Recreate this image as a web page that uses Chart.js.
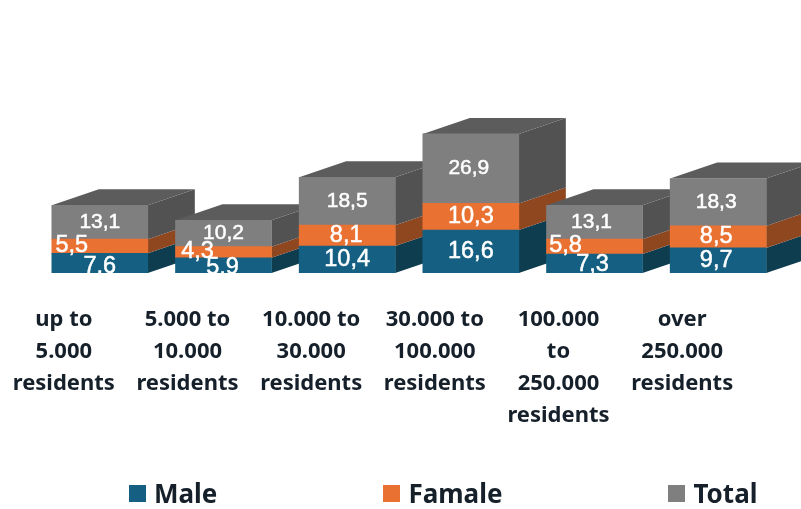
<!DOCTYPE html>
<html>
<head>
<meta charset="utf-8">
<title>Residents by municipality size</title>
<script src="https://cdn.jsdelivr.net/npm/chart.js@4/dist/chart.umd.min.js"></script>
<style>
    html, body { margin: 0; padding: 0; background: #fff; }
    #wrap { position: relative; width: 801px; height: 509px; overflow: hidden; }
    canvas { display: block; }
    #legend {
        position: absolute; left: 129px; top: 478px;
        display: flex; gap: 166px;
        font: bold 26px/30px "Noto Sans", sans-serif; color: #16202a;
    }
    #legend span { display: flex; align-items: center; gap: 8px; }
    #legend i { display: block; width: 17px; height: 17px; }
</style>
</head>
<body>
<div id="wrap">
    <canvas id="chart" width="801" height="509"></canvas>
    <div id="legend"></div>
</div>
<script>
const categories = [
    ['up to', '5.000', 'residents'],
    ['5.000 to', '10.000', 'residents'],
    ['10.000 to', '30.000', 'residents'],
    ['30.000 to', '100.000', 'residents'],
    ['100.000', 'to', '250.000', 'residents'],
    ['over', '250.000', 'residents']
];
const male = [7.6, 5.9, 10.4, 16.6, 7.3, 9.7];
const famale = [5.5, 4.3, 8.1, 10.3, 5.8, 8.5];
const total = [13.1, 10.2, 18.5, 26.9, 13.1, 18.3];

const DEPTH_X = 47;
const DEPTH_Y = 16;

// front, side and top shades per series
const shades = [
    { front: '#156082', side: '#0E3D50' },
    { front: '#E97132', side: '#8F4720' },
    { front: '#7F7F7F', side: '#525252', top: '#5C5C5C' }
];

// label nudges, the small segments have their labels pushed off center
const labelStyle = [
    { size: 23.5, dx: [0, -1, 0, 0, -2, -2], dy: [3, 2, 0, 0, 1, 0] },
    { size: 23.5, dx: [-28, -26, -1, 0, -29, -2], dy: [-1, -1, 0, 0, -1, 0] },
    { size: 21, dx: [0, 0, 0, -2, -3, -2], dy: [0, 0, 0, 0, 0, 0] }
];

function poly(ctx, color, pts) {
    ctx.fillStyle = color;
    ctx.beginPath();
    pts.forEach((p, i) => i ? ctx.lineTo(p[0], p[1]) : ctx.moveTo(p[0], p[1]));
    ctx.closePath();
    ctx.fill();
}

// Draw the side and top faces behind the bars, column by column
const depthFaces = {
    id: 'depthFaces',
    beforeDatasetsDraw(chart) {
        const ctx = chart.ctx;
        const metas = chart.data.datasets.map((d, i) => chart.getDatasetMeta(i));
        categories.forEach((c, col) => {
            metas.forEach((meta, s) => {
                const bar = meta.data[col];
                const left = bar.x - bar.width / 2;
                const right = bar.x + bar.width / 2;
                poly(ctx, shades[s].side, [
                    [right, bar.y],
                    [right + DEPTH_X, bar.y - DEPTH_Y],
                    [right + DEPTH_X, bar.base - DEPTH_Y],
                    [right, bar.base]
                ]);
                if (shades[s].top) {
                    poly(ctx, shades[s].top, [
                        [left, bar.y],
                        [left + DEPTH_X, bar.y - DEPTH_Y],
                        [right + DEPTH_X, bar.y - DEPTH_Y],
                        [right, bar.y]
                    ]);
                }
            });
        });
    }
};

// Value labels with a decimal comma, cut off at the base line like the original
const valueLabels = {
    id: 'valueLabels',
    afterDatasetsDraw(chart) {
        const ctx = chart.ctx;
        ctx.save();
        ctx.beginPath();
        ctx.rect(0, 0, chart.width, chart.chartArea.bottom);
        ctx.clip();
        ctx.textAlign = 'center';
        ctx.textBaseline = 'middle';
        ctx.fillStyle = '#fff';
        ctx.strokeStyle = '#fff';
        ctx.lineWidth = 0.5;
        chart.data.datasets.forEach((d, s) => {
            const style = labelStyle[s];
            ctx.font = style.size + 'px "Liberation Sans"';
            chart.getDatasetMeta(s).data.forEach((bar, i) => {
                const text = String(d.data[i]).replace('.', ',');
                const x = bar.x + style.dx[i];
                const y = (bar.y + bar.base) / 2 + style.dy[i];
                ctx.fillText(text, x, y);
                ctx.strokeText(text, x, y);
            });
        });
        ctx.restore();
    }
};

const chart = new Chart(document.getElementById('chart'), {
    type: 'bar',
    data: {
        labels: categories,
        datasets: [
            { label: 'Male', data: male, backgroundColor: shades[0].front },
            { label: 'Famale', data: famale, backgroundColor: shades[1].front },
            { label: 'Total', data: total, backgroundColor: shades[2].front }
        ]
    },
    options: {
        responsive: false,
        animation: false,
        barThickness: 96,
        layout: { padding: { left: 38, right: 21, top: 92, bottom: 0 } },
        plugins: {
            legend: { display: false },
            tooltip: { enabled: false }
        },
        scales: {
            x: {
                stacked: true,
                grid: { display: false },
                border: { display: false },
                afterFit: scale => { scale.height = 236; },
                ticks: {
                    autoSkip: false,
                    maxRotation: 0,
                    labelOffset: -36,
                    padding: 23,
                    color: '#16202a',
                    font: { family: '"Noto Sans"', size: 22, weight: 'bold', lineHeight: 1.4545 }
                }
            },
            y: {
                display: false,
                stacked: true,
                min: 0,
                max: 70
            }
        }
    },
    plugins: [depthFaces, valueLabels]
});

// Legend as plain html, the wide gaps between items don't fit the built-in one
document.getElementById('legend').innerHTML = chart.data.datasets.map(d =>
    '<span><i style="background:' + d.backgroundColor + '"></i>' + d.label + '</span>'
).join('');
</script>
</body>
</html>
